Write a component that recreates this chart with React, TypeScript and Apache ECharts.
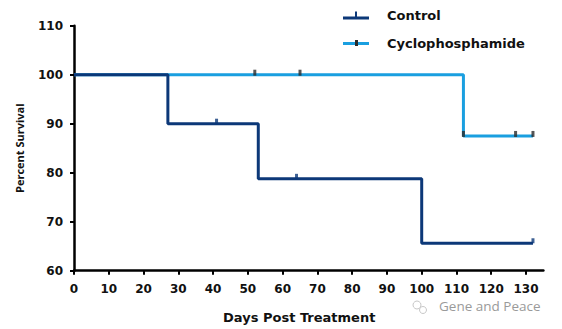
import React, { useEffect, useRef } from "react";
import * as echarts from "echarts";

const seriesNames = ["Control", "Cyclophosphamide"];
// Kaplan-Meier steps: [day, percent survival]
const controlSteps: [number, number][] = [
  [0, 100],
  [27, 90],
  [53, 78.75],
  [100, 65.6],
  [132, 65.6],
];
const cycloSteps: [number, number][] = [
  [0, 100],
  [112, 87.5],
  [132, 87.5],
];
// censored observations (days)
const controlCensorDays = [41, 64, 132];
const cycloCensorDays = [52, 65, 112, 127, 132];
const xTickValues = [0, 10, 20, 30, 40, 50, 60, 70, 80, 90, 100, 110, 120, 130];
const yTickValues = [60, 70, 80, 90, 100, 110];

const controlColor = "#0c3878";
const cycloColor = "#1a9fe0";
const censorColor = "#2b2b2b";

function survivalAt(steps: [number, number][], day: number): number {
  let v = steps[0][1];
  for (const [d, s] of steps) {
    if (d <= day) v = s;
  }
  return v;
}

const labelFont = "DejaVu Sans";

export default function App() {
  const ref = useRef<HTMLDivElement>(null);
  useEffect(() => {
    document.body.style.margin = "0";
    if (!ref.current) return;
    const chart = echarts.init(ref.current, null, { renderer: "svg" });
    chart.setOption({
      animation: false,
      backgroundColor: "#ffffff",
      grid: { left: 74, right: 18.6, top: 25.7, bottom: 58.3 },
      legend: {
        orient: "vertical",
        left: 338,
        top: 3,
        itemWidth: 26,
        itemHeight: 8,
        itemGap: 13,
        textStyle: {
          fontFamily: labelFont,
          fontWeight: "bold",
          fontSize: 13,
          color: "#111",
          lineHeight: 15,
          padding: [0, 0, 0, 13],
        },
        data: [
          { name: seriesNames[0], icon: "path://M0,6H26V9H0Z M12,1H14V6H12Z" },
          { name: seriesNames[1], icon: "path://M0,4H26V7H0Z" },
        ],
      },
      xAxis: {
        type: "value",
        min: 0,
        max: 135,
        name: "Days Post Treatment",
        nameLocation: "middle",
        nameGap: 40,
        nameTextStyle: {
          fontFamily: labelFont,
          fontWeight: "bold",
          fontSize: 13,
          color: "#111",
          padding: [0, 19, 0, 0],
        },
        splitLine: { show: false },
        axisLine: { show: true, lineStyle: { color: "#000", width: 2.5 } },
        axisTick: {
          show: true,
          length: 4,
          lineStyle: { color: "#000", width: 2 },
          customValues: xTickValues,
        },
        axisLabel: {
          margin: 12,
          fontFamily: labelFont,
          fontWeight: "bold",
          fontSize: 12,
          color: "#111",
          customValues: xTickValues,
        },
      },
      yAxis: {
        type: "value",
        min: 60,
        max: 110,
        interval: 10,
        name: "Percent Survival",
        nameLocation: "middle",
        nameGap: 49,
        nameRotate: 90,
        nameTextStyle: {
          fontFamily: "Open Sans",
          fontWeight: "bold",
          fontSize: 11,
          color: "#111",
        },
        splitLine: { show: false },
        axisLine: { show: true, lineStyle: { color: "#000", width: 2.5 } },
        axisTick: {
          show: true,
          length: 4,
          lineStyle: { color: "#000", width: 2 },
          customValues: yTickValues,
        },
        axisLabel: {
          margin: 11,
          fontFamily: labelFont,
          fontWeight: "bold",
          fontSize: 12,
          color: "#111",
          customValues: yTickValues,
        },
      },
      series: [
        {
          name: seriesNames[1],
          type: "line",
          step: "end",
          data: cycloSteps,
          showSymbol: false,
          symbol: "none",
          color: cycloColor,
          lineStyle: { color: cycloColor, width: 3 },
          z: 2,
        },
        {
          name: seriesNames[0],
          type: "line",
          step: "end",
          data: controlSteps,
          showSymbol: false,
          symbol: "none",
          color: controlColor,
          lineStyle: { color: controlColor, width: 3 },
          z: 3,
        },
        {
          name: seriesNames[1] + " censored",
          type: "scatter",
          data: cycloCensorDays.map((d) => [d, survivalAt(cycloSteps, d)]),
          symbol: "rect",
          symbolSize: [3, 6],
          symbolOffset: [0, -2],
          itemStyle: { color: censorColor },
          z: 4,
        },
        {
          name: seriesNames[0] + " censored",
          type: "scatter",
          data: controlCensorDays.map((d) => [d, survivalAt(controlSteps, d)]),
          symbol: "rect",
          symbolSize: [3, 5],
          symbolOffset: [0, -2.5],
          itemStyle: { color: controlColor },
          z: 4,
        },
      ],
      graphic: [
        {
          type: "rect",
          shape: { x: 355, y: 40, width: 3, height: 6 },
          style: { fill: censorColor },
          z: 100,
        },
        {
          type: "circle",
          shape: { cx: 417, cy: 305, r: 4 },
          style: { fill: "none", stroke: "#c8c8c8", lineWidth: 1 },
        },
        {
          type: "circle",
          shape: { cx: 423, cy: 310, r: 3.5 },
          style: { fill: "none", stroke: "#c8c8c8", lineWidth: 1 },
        },
        {
          type: "text",
          left: 439,
          top: 299,
          style: {
            text: "Gene and Peace",
            fontFamily: "Open Sans",
            fontSize: 13.5,
            fill: "#9a9a9a",
          },
        },
      ],
    });
    return () => chart.dispose();
  }, []);
  return <div ref={ref} style={{ width: 562, height: 329 }} />;
}
